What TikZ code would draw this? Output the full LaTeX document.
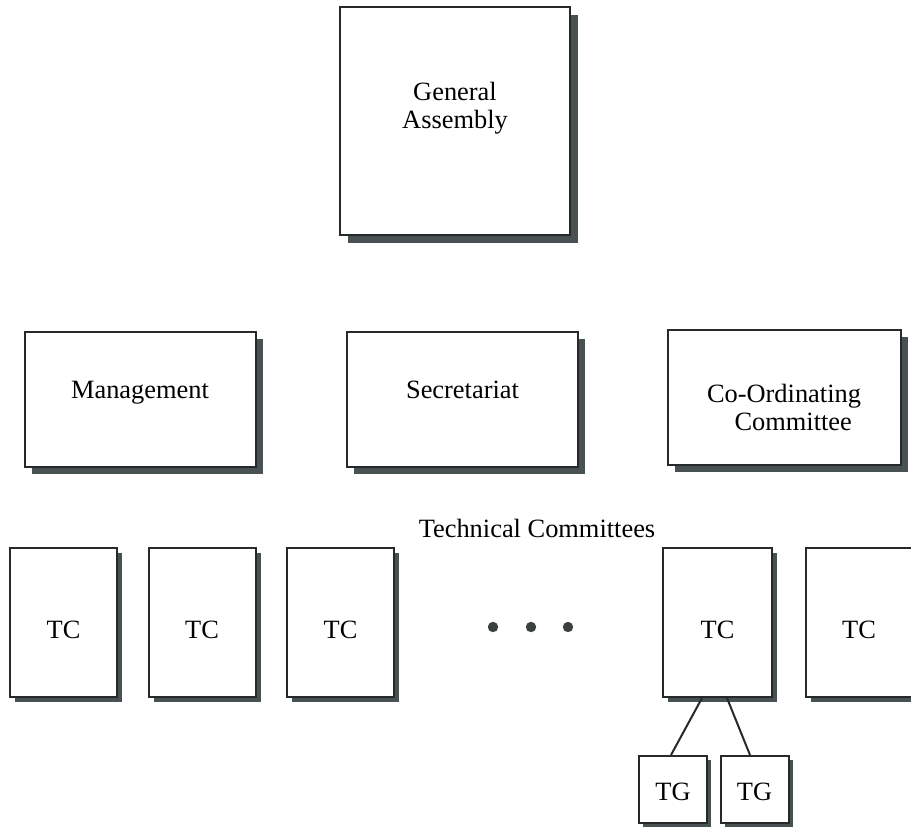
\documentclass[tikz,border=0pt]{standalone}
\usepackage{fontspec}
\setmainfont{Liberation Serif}
\usepackage{tikz}
\usetikzlibrary{shapes.geometric, shadows}
\definecolor{shadowgrey}{RGB}{72,82,82}
\definecolor{edgegrey}{RGB}{38,42,42}
\tikzstyle{panel} = [rectangle, draw=edgegrey, line width=1pt, fill=white, align=center, inner sep=0pt]
\tikzstyle{assembly} = [panel, minimum width=115pt, minimum height=114pt, text height=24pt, text depth=17pt, drop shadow={shadow xshift=4pt, shadow yshift=-4pt, fill=shadowgrey, opacity=1}]
\tikzstyle{board} = [panel, minimum width=115.5pt, minimum height=67.5pt, text height=9pt, text depth=10pt, drop shadow={shadow xshift=3.5pt, shadow yshift=-3.5pt, fill=shadowgrey, opacity=1}]
\tikzstyle{committee} = [panel, minimum width=53.5pt, minimum height=74.5pt, text height=15.5pt, text depth=0pt, drop shadow={shadow xshift=2.5pt, shadow yshift=-2.5pt, fill=shadowgrey, opacity=1}]
\tikzstyle{taskgroup} = [panel, minimum width=34pt, minimum height=33.5pt, text height=10.5pt, text depth=0pt, drop shadow={shadow xshift=2pt, shadow yshift=-2pt, fill=shadowgrey, opacity=1}]
\tikzstyle{link} = [line width=1pt, draw=edgegrey]

\begin{document}
\begin{tikzpicture}[x=0.5pt, y=-0.5pt, font=\fontsize{13.2}{14}\selectfont]
    \useasboundingbox (0,0) rectangle (911,827);

        % top
        \node (assembly) [assembly] at (455,121) {General\\Assembly};

        % boards
        \node (management) [board] at (140,399.5) {Management};
        \node (secretariat) [board, right of=management, node distance=161.25pt] {Secretariat};
        \node (coordinating) [board, right of=secretariat, node distance=160.75pt, yshift=1.25pt, minimum width=116.5pt, text height=33pt, text depth=0pt] {Co-Ordinating\\\hspace*{0.7em}Committee};

        % technical committees
        \node (tclabel) at (537,528) {Technical Committees};
        \node (tc1) [committee] at (63.5,622.5) {TC};
        \node (tc2) [committee, right of=tc1, node distance=69.25pt] {TC};
        \node (tc3) [committee, right of=tc2, node distance=69.25pt] {TC};
        \node (tc5) [committee, minimum width=54.5pt] at (717.5,622.5) {TC};
        \node (tc6) [committee, right of=tc5, node distance=70.75pt] {TC};
        \foreach \x in {493,531,568}
            \fill [edgegrey!90] (\x,627) circle (2.6pt);

        % task groups
        \node (tg1) [taskgroup] at (673,789.5) {TG};
        \node (tg2) [taskgroup, right of=tg1, node distance=40.75pt] {TG};

        % edges
        \draw [link] ([xshift=-7.75pt]tc5.south) -- ([xshift=-1pt]tg1.north);
        \draw [link] ([xshift=4.75pt]tc5.south) -- ([xshift=-2.25pt]tg2.north);

    \end{tikzpicture}
\end{document}
